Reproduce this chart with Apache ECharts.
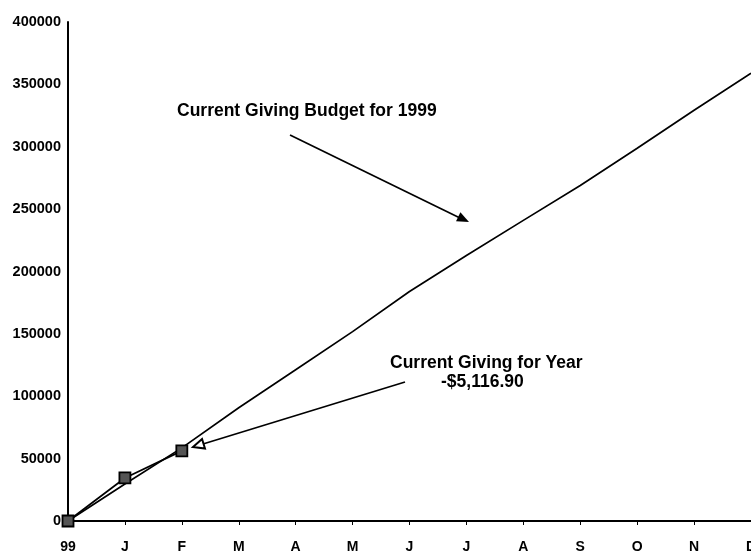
<!DOCTYPE html>
<html>
<head>
<meta charset="utf-8">
<script src="https://cdn.jsdelivr.net/npm/echarts@6/dist/echarts.min.js"></script>
<style>
  html, body { margin: 0; padding: 0; background: #fff; }
  #chart { width: 751px; height: 557px; }
</style>
</head>
<body>
<div id="chart"></div>
<script>
// month labels (start of 1999 through December)
var months = ['99', 'J', 'F', 'M', 'A', 'M', 'J', 'J', 'A', 'S', 'O', 'N', 'D'];
// cumulative giving budget for 1999
var budget = [0, 29700, 58600, 90800, 121300, 151800, 184000, 212900, 241000, 269000, 298800, 329300, 359000];
// actual giving so far
var giving = [0, 34500, 56200];

var font = '"Liberation Sans", Arial, sans-serif';
var chart = echarts.init(document.getElementById('chart'), null, { renderer: 'canvas' });

// arrow head points for a line going from (x1,y1) to (x2,y2)
function head(x1, y1, x2, y2, len, half) {
  var dx = x2 - x1, dy = y2 - y1;
  var d = Math.sqrt(dx * dx + dy * dy);
  var ux = dx / d, uy = dy / d;
  var bx = x2 - ux * len, by = y2 - uy * len;
  return [[x2, y2], [bx - uy * half, by + ux * half], [bx + uy * half, by - ux * half]];
}

chart.setOption({
  animation: false,
  backgroundColor: '#fff',
  grid: { left: 68, right: 0, top: 22, bottom: 36, outerBoundsMode: 'none' },
  xAxis: {
    type: 'category',
    data: months,
    boundaryGap: false,
    axisLine: { lineStyle: { color: '#000', width: 2 } },
    axisTick: { show: true, length: 4, inside: false, lineStyle: { color: '#000', width: 1 } },
    axisLabel: { color: '#000', fontFamily: font, fontWeight: 'bold', fontSize: 14, margin: 19, interval: 0 },
    splitLine: { show: false }
  },
  yAxis: {
    type: 'value',
    min: 0, max: 400000, interval: 50000,
    axisLine: { show: true, lineStyle: { color: '#000', width: 2 } },
    axisTick: { show: false },
    axisLabel: {
      color: '#000', fontFamily: font, fontWeight: 'bold', fontSize: 14.5, margin: 7,
      formatter: function (v) { return String(v); }
    },
    splitLine: { show: false }
  },
  series: [
    {
      name: 'Budget',
      type: 'line',
      data: budget,
      symbol: 'none',
      lineStyle: { color: '#000', width: 1.7 },
      z: 2
    },
    {
      name: 'Giving',
      type: 'line',
      data: giving,
      symbol: 'rect',
      symbolSize: 11,
      itemStyle: { color: '#555', borderColor: '#000', borderWidth: 1.8 },
      lineStyle: { color: '#000', width: 1.7 },
      z: 3
    }
  ],
  graphic: [
    {
      type: 'text', left: 177, top: 102,
      style: { text: 'Current Giving Budget for 1999', fill: '#000', font: 'bold 17.5px ' + font }
    },
    {
      type: 'line',
      shape: { x1: 290, y1: 135, x2: 460, y2: 218 },
      style: { stroke: '#000', lineWidth: 1.7 }
    },
    {
      type: 'polygon',
      shape: { points: head(290, 135, 469, 222, 12, 5) },
      style: { fill: '#000' }
    },
    {
      type: 'text', left: 390, top: 354,
      style: { text: 'Current Giving for Year', fill: '#000', font: 'bold 17.5px ' + font }
    },
    {
      type: 'text', left: 441, top: 373,
      style: { text: '-$5,116.90', fill: '#000', font: 'bold 17.5px ' + font }
    },
    {
      type: 'line',
      shape: { x1: 405, y1: 382, x2: 203, y2: 444 },
      style: { stroke: '#000', lineWidth: 1.7 }
    },
    {
      type: 'polygon',
      shape: { points: head(405, 382, 193, 447, 11, 5) },
      style: { fill: '#fff', stroke: '#000', lineWidth: 2 }
    }
  ]
});
</script>
</body>
</html>
